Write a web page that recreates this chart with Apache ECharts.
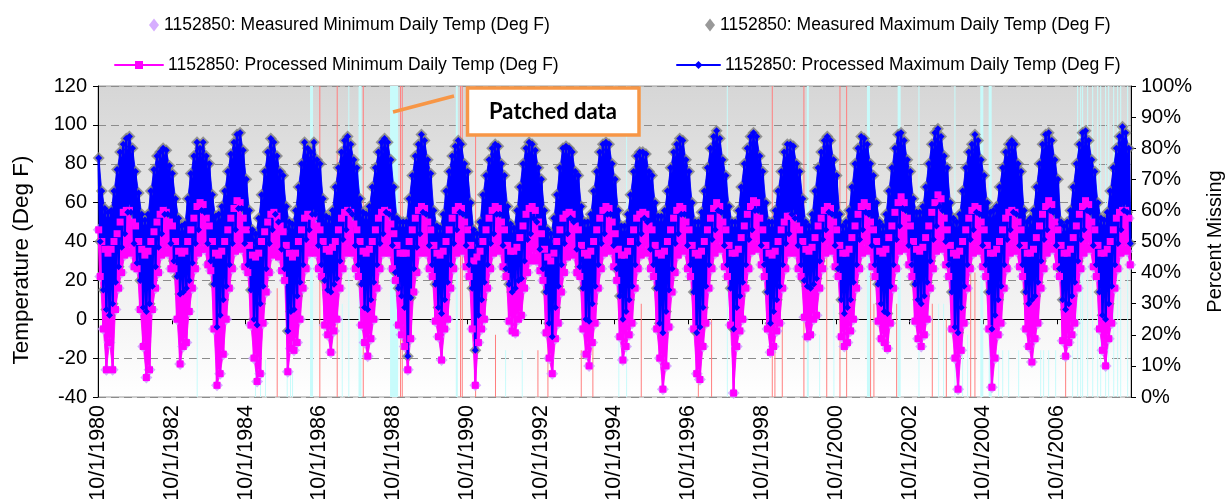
<!DOCTYPE html>
<html>
<head>
<meta charset="utf-8">
<script src="https://cdn.jsdelivr.net/npm/echarts@6/dist/echarts.min.js"></script>
<style>
  html, body { margin: 0; padding: 0; background: #ffffff; }
  #chart { width: 1228px; height: 501px; }
</style>
</head>
<body>
<div id="chart"></div>
<script>
// Station 1152850 daily temperatures, summarised per month as the upper and lower
// edge of the daily values. One row per water year (Oct .. Sep), 1981 .. 2008.
const waterYears = [1981,1982,1983,1984,1985,1986,1987,1988,1989,1990,1991,1992,1993,1994,
                    1995,1996,1997,1998,1999,2000,2001,2002,2003,2004,2005,2006,2007,2008];

const maxHigh = [
  83,66,57,55,56,66,77,86,90,93,94,88,
  76,65,54,51,54,66,77,84,86,88,87,79,
  75,62,52,48,49,62,75,84,91,88,91,84,
  80,64,53,54,58,66,76,85,91,95,96,87,
  72,56,46,44,52,64,76,86,93,91,84,76,
  74,58,50,49,56,68,80,91,88,86,91,82,
  80,62,53,52,56,68,78,86,92,94,90,82,
  78,62,55,54,58,68,78,86,91,93,91,82,
  68,52,50,50,50,62,74,84,90,95,92,82,
  75,56,48,47,54,66,76,84,89,92,90,80,
  76,60,46,44,50,64,74,82,88,90,89,80,
  74,58,49,47,56,68,80,88,91,90,87,78,
  72,56,46,44,52,64,78,88,89,88,86,76,
  74,58,50,50,54,66,76,86,90,91,90,80,
  72,56,48,48,54,64,76,84,86,86,85,76,
  74,60,53,53,56,66,78,86,90,93,92,82,
  76,60,50,50,55,66,78,88,94,97,93,82,
  74,58,50,50,56,68,80,88,94,96,94,84,
  76,60,50,50,56,66,76,86,90,90,89,80,
  76,62,50,48,54,66,78,86,92,94,92,82,
  74,54,48,50,56,68,80,88,94,93,90,80,
  74,60,50,48,54,66,78,88,95,96,92,82,
  76,62,55,55,58,68,80,90,96,98,94,84,
  78,60,52,50,54,66,78,86,90,95,92,82,
  74,60,55,56,58,68,78,86,90,92,90,80,
  76,56,50,52,56,68,80,90,95,96,92,82,
  72,50,48,50,56,68,80,90,96,97,92,82,
  76,60,52,51,55,66,78,88,94,99,96,88
];

const maxLow = [
  40,15,5,2,8,19,27,37,44,55,55,39,
  29,20,6,4,8,17,27,37,44,54,54,39,
  30,22,13,14,16,20,29,39,46,56,55,39,
  30,18,-4,2,10,17,28,39,46,57,57,39,
  28,15,0,-3,8,17,26,39,46,54,50,36,
  26,-6,4,5,12,19,28,41,46,54,54,38,
  28,20,15,14,18,21,30,41,46,56,54,38,
  28,18,6,5,10,19,28,39,44,55,54,38,
  24,16,12,6,-19,11,26,37,44,55,54,38,
  28,18,6,3,10,19,28,39,46,55,54,38,
  28,16,-16,2,10,19,28,39,44,54,54,38,
  26,18,14,16,20,21,30,41,44,52,50,36,
  26,14,-2,-9,6,17,28,39,44,52,50,36,
  27,16,0,-1,8,17,28,39,44,54,54,38,
  26,12,0,4,10,17,28,39,44,52,50,36,
  28,16,-2,-7,4,15,26,39,44,54,54,38,
  28,14,-7,-4,6,17,28,41,46,56,55,38,
  28,16,-5,6,12,19,28,41,46,56,56,38,
  28,14,-2,4,10,17,28,39,44,54,52,38,
  28,20,17,16,18,21,30,41,46,55,54,38,
  26,10,3,6,10,19,28,41,46,55,54,38,
  28,18,8,4,3,17,28,41,48,57,56,38,
  28,18,10,8,12,19,30,41,48,58,56,40,
  28,14,-4,-7,6,17,28,41,46,55,54,38,
  28,14,-5,2,10,17,28,41,46,55,54,38,
  28,14,8,10,12,19,30,41,46,56,55,38,
  26,10,5,8,12,19,30,41,46,56,55,38,
  28,14,2,0,8,17,28,39,46,56,55,39
];

const minHigh = [
  46,40,36,34,36,40,44,50,55,56,56,50,
  48,40,36,33,35,40,45,50,54,56,55,50,
  48,40,35,34,35,40,46,52,58,60,59,52,
  48,40,34,33,35,40,46,52,57,61,60,52,
  46,38,33,32,34,40,45,50,54,55,53,48,
  45,38,34,32,34,40,46,52,54,53,53,48,
  46,40,36,35,37,40,46,52,55,56,55,49,
  46,40,35,34,36,40,46,52,55,56,55,49,
  44,38,34,34,34,40,46,52,56,58,57,50,
  46,38,34,33,35,40,46,52,56,58,57,50,
  46,38,30,32,35,40,46,52,56,58,57,50,
  46,38,35,35,37,42,48,54,57,58,56,50,
  44,36,32,30,34,40,46,52,54,55,54,48,
  46,38,34,33,35,40,46,52,56,58,57,50,
  44,36,33,33,35,40,46,52,54,55,54,48,
  46,38,34,33,35,40,46,52,56,58,57,50,
  46,38,34,33,35,40,46,52,57,60,58,50,
  46,38,34,34,36,42,48,54,58,61,60,52,
  46,38,34,33,35,40,46,50,53,53,52,48,
  46,40,36,35,37,42,48,52,56,58,57,50,
  46,38,34,34,36,42,48,54,58,60,58,50,
  46,40,35,34,36,42,48,55,60,63,60,52,
  48,40,36,35,37,42,48,55,60,64,62,52,
  46,38,34,33,35,40,46,52,56,58,57,50,
  46,38,34,34,36,40,46,52,55,56,55,50,
  46,38,34,34,36,42,48,54,58,61,59,50,
  46,38,34,34,36,42,48,54,58,61,59,50,
  46,38,34,34,36,40,46,52,55,56,56,52
];

const minLow = [
  22,-5,-26,-12,-26,5,16,24,33,35,34,27,
  26,5,-14,-30,-26,5,16,24,33,35,34,26,
  26,0,-23,-14,-12,4,16,26,34,36,36,28,
  25,-5,-34,-28,-18,0,16,26,35,37,36,27,
  24,-3,-20,-32,-28,-2,14,24,33,35,32,25,
  20,-27,-15,-16,-12,0,16,26,34,35,34,26,
  22,-3,-8,-17,-6,0,16,26,34,36,34,26,
  22,-3,-12,-19,-10,0,16,26,34,36,34,26,
  20,-3,-8,-14,-26,-10,14,24,34,36,34,26,
  22,-1,-9,-21,-5,0,16,26,34,36,35,27,
  22,-5,-34,-12,-5,0,16,26,34,36,35,27,
  22,-1,-6,-7,0,2,16,24,30,32,30,25,
  20,-7,-20,-28,-10,-2,14,24,32,34,33,24,
  22,-5,-18,-24,-12,-2,16,26,34,36,35,27,
  20,-9,-21,-14,-8,-2,16,26,33,35,34,26,
  22,-5,-20,-36,-24,-4,14,24,33,36,35,26,
  22,-5,-28,-31,-14,-2,16,26,34,37,36,27,
  22,-3,-38,-14,-6,0,16,26,35,38,36,28,
  22,-5,-17,-14,-6,-2,16,26,34,36,34,26,
  22,1,-9,-8,0,2,16,26,34,36,35,27,
  22,-9,-14,-12,-6,0,16,26,34,36,35,27,
  22,-1,-10,-12,-15,-2,16,26,35,38,36,28,
  22,-1,-10,-14,-8,0,16,26,35,38,36,28,
  22,-5,-20,-36,-16,-2,16,26,34,36,35,27,
  22,-5,-35,-20,-8,-2,16,26,34,36,35,27,
  22,-5,-14,-22,-10,-2,16,26,34,37,36,27,
  22,-11,-19,-12,-8,-2,16,26,34,37,36,27,
  22,-5,-16,-24,-10,-2,16,26,34,36,35,28
];

// Percent of the day's values missing (secondary axis): start date, percent, length in days
const missMinDates = ['1983-06-05','1985-01-02','1985-02-21','1985-04-11','1985-11-12','1985-12-15','1986-01-04',
  '1986-07-01','1987-05-11','1987-07-15','1987-10-24','1988-08-31','1990-06-13','1991-10-14','1992-03-27',
  '1994-11-08','1995-01-24','1997-10-17','1999-12-18','2000-04-18','2000-09-06','2001-08-04','2002-06-04',
  '2002-12-27','2003-07-10','2003-08-28','2003-12-18','2004-03-03','2004-04-22','2004-08-30','2004-11-21',
  '2005-02-23','2005-04-04','2005-06-02','2005-09-09','2006-04-15','2006-05-14','2006-07-03','2006-09-10',
  '2007-02-25','2007-04-16','2007-05-16','2007-06-04','2007-07-24','2007-09-12','2007-10-31','2007-11-30',
  '2008-01-18','2008-02-17','2008-04-07','2008-05-16','2008-06-15','2008-08-23'];
const missMinPct = [35,12,12,12,8,8,8,
  100,30,100,100,100,100,15,15,
  25,100,100,100,20,30,100,100,
  100,30,30,100,20,20,100,100,
  15,15,15,15,15,15,15,15,
  15,100,100,100,100,100,100,100,
  100,100,100,100,100,100];
const missMinDays = [1,1,1,1,1,1,1,
  30,1,1,30,80,20,1,1,
  1,1,1,20,1,1,30,30,
  1,1,1,1,1,1,30,30,
  1,1,1,1,1,1,1,1,
  1,1,1,1,1,1,1,1,
  1,1,1,1,1,1];

const missMaxDates = ['1985-08-05','1986-10-01','1987-03-22','1987-12-05','1988-12-08','1988-12-25','1990-07-25',
  '1990-08-11','1990-12-21','1991-07-06','1992-08-29','1992-12-06','1993-11-01','1994-02-24','1995-06-18',
  '1997-01-03','1997-05-14','1999-01-05','1999-01-31','1999-04-14','1999-11-14','2000-06-27','2000-11-05',
  '2001-01-10','2001-09-04','2001-10-07','2002-05-20','2003-05-08','2003-09-24','2004-05-22','2004-07-03','2006-12-18'];
const missMaxPct = [35,100,100,100,100,100,100,
  100,100,20,15,30,15,20,30,
  20,25,100,30,25,100,45,100,
  100,40,30,30,30,25,40,40,15];

const tickLabels = ['10/1/1980','10/1/1982','10/1/1984','10/1/1986','10/1/1988','10/1/1990','10/1/1992',
  '10/1/1994','10/1/1996','10/1/1998','10/1/2000','10/1/2002','10/1/2004','10/1/2006'];

const NAMES = [
  '1152850: Measured Minimum Daily Temp (Deg F)',
  '1152850: Measured Maximum Daily Temp (Deg F)',
  '1152850: Processed Minimum Daily Temp (Deg F)',
  '1152850: Processed Maximum Daily Temp (Deg F)'
];

// ---- x positions are days since 1 Oct 1980 ----
const DAY = 86400000;
const ORIGIN = Date.UTC(1980, 9, 1);
function dayOf(s) {
  const p = s.split('-').map(Number);
  return (Date.UTC(p[0], p[1] - 1, p[2]) - ORIGIN) / DAY;
}
function monthStart(i) {
  const wy = Math.floor(i / 12), m = i % 12;
  const year = waterYears[wy] - (m < 3 ? 1 : 0);
  return (Date.UTC(year, (m + 9) % 12, 1) - ORIGIN) / DAY;
}
// the month's high early in the month, its low later in the month
function monthPoints(high, low) {
  const pts = [];
  for (let i = 0; i < high.length; i++) {
    const t = monthStart(i);
    pts.push([t + 7, high[i]]);
    pts.push([t + 22, low[i]]);
  }
  return pts;
}
const maxPts = monthPoints(maxHigh, maxLow);
const minPts = monthPoints(minHigh, minLow);

// one quad per pair of neighbouring months: high, next high, next low, low
function bandItems(pts) {
  const items = [];
  for (let i = 0; i + 3 < pts.length; i += 2) {
    items.push([pts[i][0], pts[i][1], pts[i + 2][0], pts[i + 2][1],
                pts[i + 3][0], pts[i + 3][1], pts[i + 1][0], pts[i + 1][1]]);
  }
  return items;
}

const missMinData = missMinDates.map((d, i) => [dayOf(d), missMinPct[i], missMinDays[i]]);
const missMaxData = missMaxDates.map((d, i) => [dayOf(d), missMaxPct[i], 1]);

function renderMissing(color) {
  return function (params, api) {
    const x = api.value(0), pct = api.value(1), len = api.value(2);
    const p0 = api.coord([x, 0]);
    const p1 = api.coord([x + len, pct]);
    const w = Math.max(1, p1[0] - p0[0]);
    return {
      type: 'rect',
      shape: { x: p0[0], y: p1[1], width: w, height: p0[1] - p1[1] },
      style: { fill: color }
    };
  };
}

function renderBand(color) {
  return function (params, api) {
    const pts = [];
    for (let k = 0; k < 8; k += 2) pts.push(api.coord([api.value(k), api.value(k + 1)]));
    return {
      type: 'polygon',
      shape: { points: pts },
      style: { fill: color, stroke: color, lineWidth: 0.8 }
    };
  };
}

function bandSeries(pts, color) {
  return {
    type: 'custom', silent: true, clip: true,
    dimensions: ['x0', 'y0', 'x1', 'y1', 'x2', 'y2', 'x3', 'y3'],
    encode: { x: 0, y: 1 },
    renderItem: renderBand(color),
    data: bandItems(pts)
  };
}

const FONT = "'Liberation Sans', Arial, sans-serif";
const TWO_YEARS = 730.5;

const chart = echarts.init(document.getElementById('chart'), null, { renderer: 'canvas' });

function legendAt(name, left, top, w, h) {
  return {
    data: [name], left: left, top: top, itemWidth: w, itemHeight: h, itemGap: 0,
    textStyle: { fontFamily: FONT, fontSize: 17.5, color: '#000' },
    selectedMode: false
  };
}

chart.setOption({
  animation: false,
  backgroundColor: '#ffffff',
  legend: [
    legendAt(NAMES[0], 144, 11, 10, 13),
    legendAt(NAMES[1], 700, 11, 10, 13),
    legendAt(NAMES[2], 109, 51, 48, 10),
    legendAt(NAMES[3], 671, 51, 43, 10)
  ],
  grid: {
    left: 98, right: 97, top: 86, bottom: 104,
    outerBoundsMode: 'none',
    containLabel: false,
    show: true,
    borderColor: '#9a9a9a', borderWidth: 1,
    backgroundColor: new echarts.graphic.LinearGradient(0, 0, 0, 1, [
      { offset: 0, color: '#d6d6d6' },
      { offset: 1, color: '#ffffff' }
    ])
  },
  xAxis: {
    type: 'value',
    min: 0,
    max: dayOf('2008-09-30'),
    interval: TWO_YEARS,
    axisLine: { show: true, lineStyle: { color: '#000', width: 1 } },
    axisTick: { show: true, length: 5, lineStyle: { color: '#000' } },
    splitLine: { show: false },
    axisLabel: {
      rotate: 90, margin: 8, fontFamily: FONT, fontSize: 21.5, color: '#000',
      showMaxLabel: false,
      formatter: function (v) {
        const k = Math.round(v / TWO_YEARS);
        return Math.abs(v - k * TWO_YEARS) < 1 && tickLabels[k] ? tickLabels[k] : '';
      }
    }
  },
  yAxis: [
    {
      type: 'value', min: -40, max: 120, interval: 20,
      axisLine: { show: true, lineStyle: { color: '#000', width: 1 } },
      axisTick: { show: true, length: 5, lineStyle: { color: '#000' } },
      axisLabel: { fontFamily: FONT, fontSize: 20, color: '#000', margin: 11 },
      splitLine: { show: true, lineStyle: { color: '#8c8c8c', width: 1, type: [8, 5] } }
    },
    {
      type: 'value', min: 0, max: 100, interval: 10, position: 'right',
      name: 'Percent Missing', nameLocation: 'middle', nameGap: 74, nameRotate: 90,
      nameTextStyle: { fontFamily: FONT, fontSize: 20, color: '#000' },
      axisLine: { show: true, lineStyle: { color: '#000', width: 1 } },
      axisTick: { show: true, length: 5, lineStyle: { color: '#000' } },
      axisLabel: { fontFamily: FONT, fontSize: 20, color: '#000', margin: 10, formatter: '{value}%' },
      splitLine: { show: false }
    }
  ],
  series: [
    {
      name: 'Missing minimum', type: 'custom', yAxisIndex: 1, clip: true,
      renderItem: renderMissing('#c8fbfb'), data: missMinData, silent: true
    },
    {
      name: 'Missing maximum', type: 'custom', yAxisIndex: 1, clip: true,
      renderItem: renderMissing('#ff7f7f'), data: missMaxData, silent: true
    },
    {
      name: NAMES[0], type: 'scatter', data: minPts,
      symbol: 'diamond', symbolSize: 12, progressive: 0, large: false,
      itemStyle: { color: '#cc99ff' }
    },
    {
      name: NAMES[1], type: 'scatter', data: maxPts,
      symbol: 'diamond', symbolSize: 12, progressive: 0, large: false,
      itemStyle: { color: '#7f7f7f' }
    },
    bandSeries(minPts, '#ff00ff'),
    {
      name: NAMES[2], type: 'line', data: minPts,
      symbol: 'rect', symbolSize: 7, showAllSymbol: true,
      lineStyle: { color: '#ff00ff', width: 2.5, join: 'round', cap: 'round' },
      itemStyle: { color: '#ff00ff' }
    },
    bandSeries(maxPts, '#0000ff'),
    {
      name: NAMES[3], type: 'line', data: maxPts,
      symbol: 'diamond', symbolSize: 7, showAllSymbol: true,
      lineStyle: { color: '#0000ff', width: 2.5, join: 'round', cap: 'round' },
      itemStyle: { color: '#0000ff' }
    }
  ],
  graphic: [
    {
      type: 'text', z: 50, x: 22, y: 260, rotation: Math.PI / 2,
      style: {
        text: 'Temperature (Deg F)', fill: '#000',
        font: "22.5px 'Liberation Sans', Arial, sans-serif",
        align: 'center', verticalAlign: 'middle'
      }
    },
    {
      type: 'line', z: 100,
      shape: { x1: 393, y1: 112, x2: 454, y2: 96 },
      style: { stroke: '#f79646', lineWidth: 3.5 }
    },
    {
      type: 'rect', z: 100,
      shape: { x: 467.5, y: 88, width: 171.5, height: 47 },
      style: { fill: '#ffffff', stroke: '#f79646', lineWidth: 3.5 }
    },
    {
      type: 'text', z: 101, x: 553, y: 112,
      style: {
        text: 'Patched data', fill: '#000',
        font: "bold 22px Lato, 'Open Sans', sans-serif",
        align: 'center', verticalAlign: 'middle'
      }
    }
  ]
});
</script>
</body>
</html>
